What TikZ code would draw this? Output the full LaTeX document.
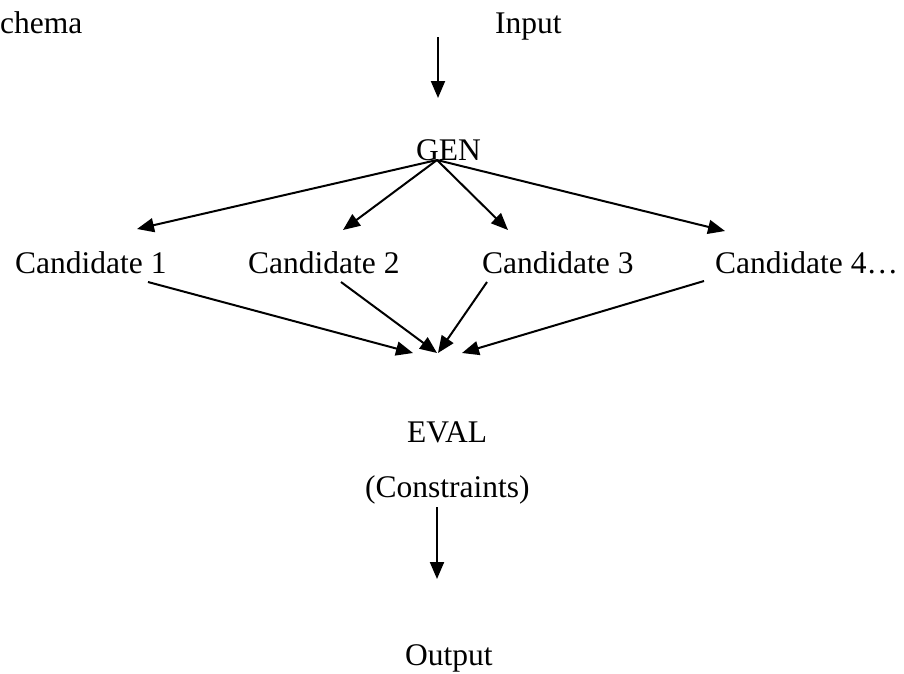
\documentclass[tikz,border=0pt]{standalone}
\usepackage{fontspec}
\setmainfont{Liberation Serif}
\usetikzlibrary{arrows.meta}
\begin{document}
\begin{tikzpicture}[x=1pt,y=-1pt,
  lbl/.style={inner sep=0pt,anchor=base west,font=\fontsize{31.5pt}{36pt}\selectfont},
  arr/.style={line width=2pt,-{Triangle[length=17pt,width=14pt]}}]
\useasboundingbox (0,0) rectangle (904,673);
\node[lbl] (schema) at (0,33) {chema};
\node[lbl] (input) at (495,33) {Input};
\node[lbl] (gen) at (416,160) {GEN};
\node[lbl] (c1) at (15,273) {Candidate 1};
\node[lbl] (c2) at (248,273) {Candidate 2};
\node[lbl] (c3) at (482,273) {Candidate 3};
\node[lbl] (c4) at (715,273) {Candidate 4…};
\node[lbl] (eval) at (407,442) {EVAL};
\node[lbl] (cons) at (365,497) {(Constraints)};
\node[lbl] (output) at (405,665) {Output};
% connector end points
\coordinate (inA) at (438,37);
\coordinate (inB) at (438,98);
\coordinate (genO) at (437,160);
\coordinate (c1in) at (137,229);
\coordinate (c2in) at (343,230);
\coordinate (c3in) at (508,230);
\coordinate (c4in) at (725,231);
\coordinate (c1out) at (148,282);
\coordinate (c2out) at (341,282);
\coordinate (c3out) at (487,282);
\coordinate (c4out) at (704,281);
\coordinate (e1) at (413,353);
\coordinate (e2) at (437,353);
\coordinate (e3) at (438,353);
\coordinate (e4) at (462,353);
\coordinate (consA) at (437,507);
\coordinate (consB) at (437,579);
\draw[arr] (inA) -- (inB);
\draw[arr] (genO) -- (c1in);
\draw[arr] (genO) -- (c2in);
\draw[arr] (genO) -- (c3in);
\draw[arr] (genO) -- (c4in);
\draw[arr] (c1out) -- (e1);
\draw[arr] (c2out) -- (e2);
\draw[arr] (c3out) -- (e3);
\draw[arr] (c4out) -- (e4);
\draw[arr] (consA) -- (consB);
\end{tikzpicture}
\end{document}
